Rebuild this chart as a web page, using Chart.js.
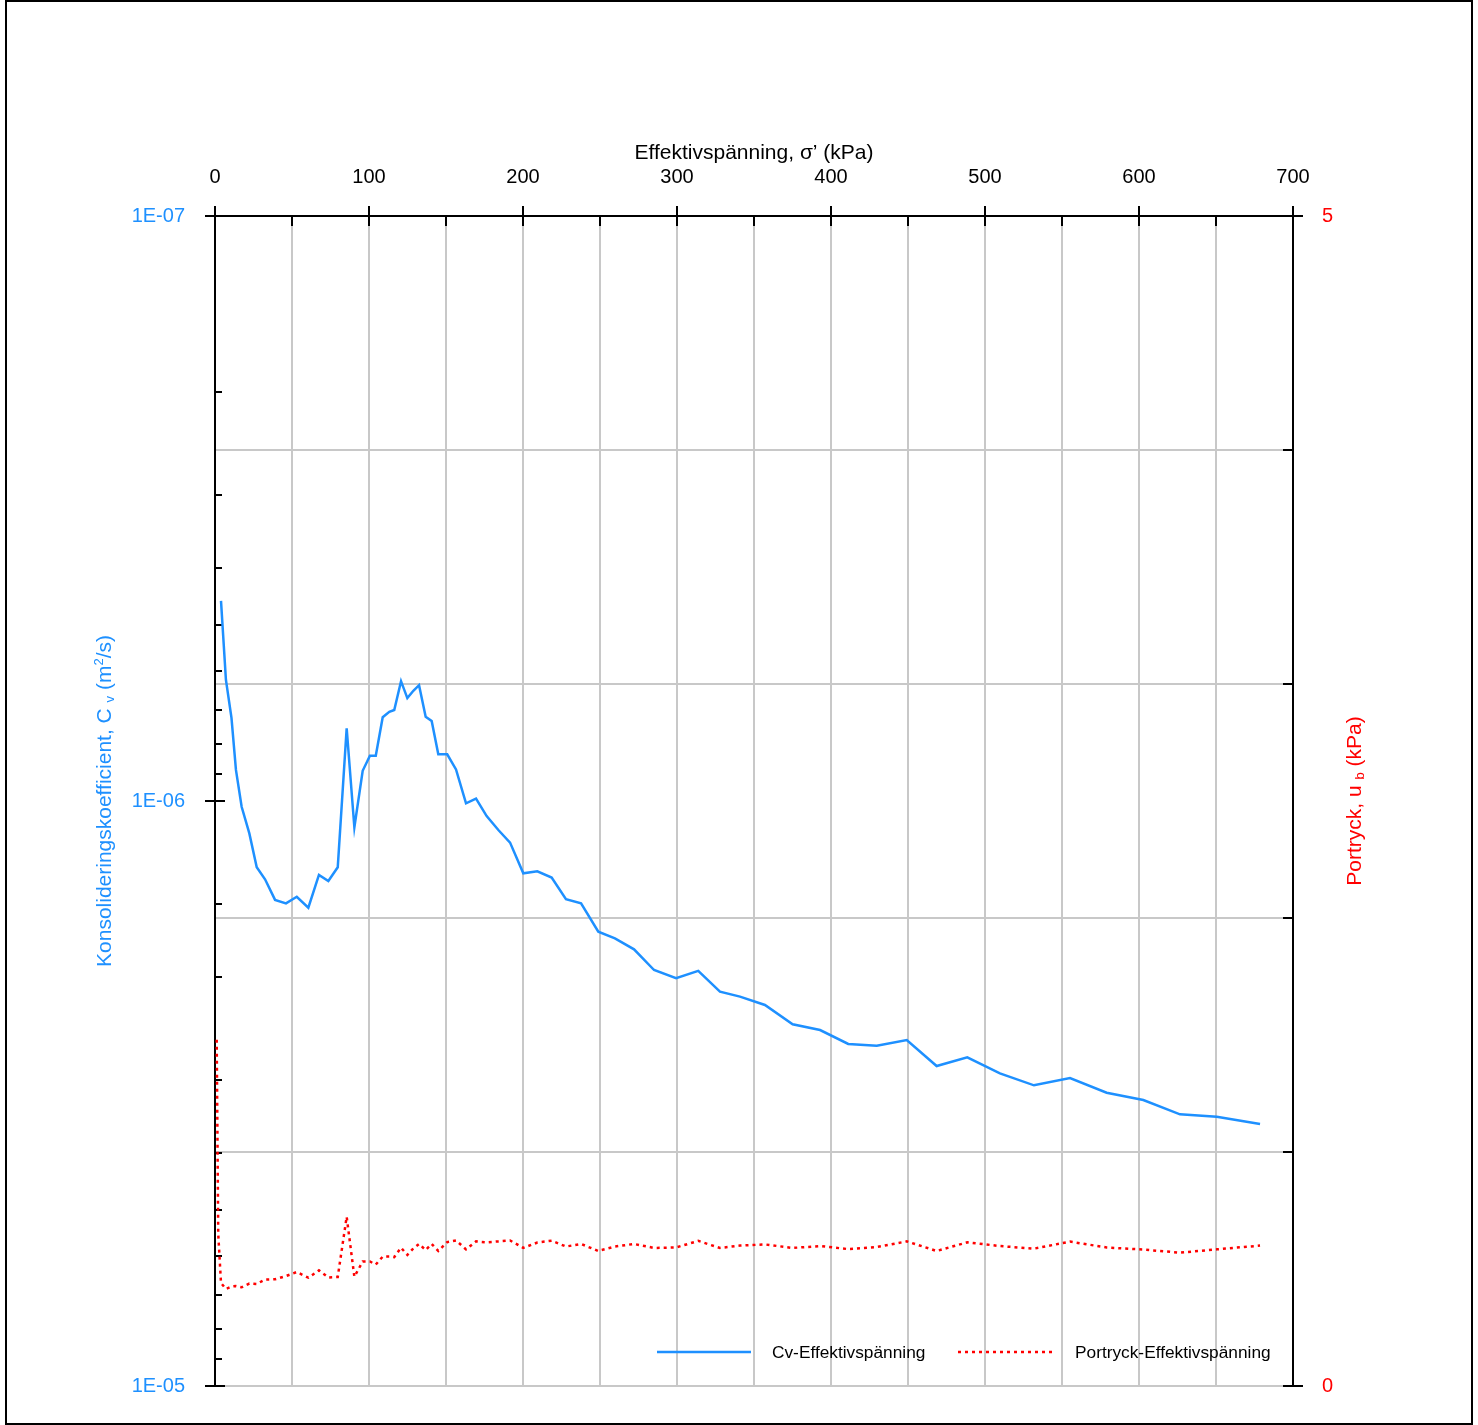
<!DOCTYPE html>
<html>
<head>
<meta charset="utf-8">
<script src="https://cdn.jsdelivr.net/npm/chart.js@4.4.1/dist/chart.umd.min.js"></script>
<style>
  html, body { margin: 0; padding: 0; background: #fff; overflow: hidden; }
  #wrap { width: 1478px; height: 1425px; position: relative; overflow: hidden; }
  #c { display: block; }
</style>
</head>
<body>
<div id="wrap"><canvas id="c" width="1478" height="1425"></canvas></div>
<script>
// Effective stress, kPa (common to both series)
const sigma = [3.9, 7.1, 10.7, 13.6, 17.3, 22.3, 27.1, 32.5, 39.0, 46.1,
  53.1, 60.6, 67.5, 73.6, 79.7, 85.5, 90.5, 95.9, 100.6, 104.4,
  108.9, 113.2, 116.4, 120.8, 124.9, 128.8, 132.5, 136.8, 140.7, 145.0,
  150.8, 156.5, 163.0, 169.5, 176.4, 184.0, 191.6, 200.2, 209.3, 218.6,
  227.9, 237.7, 248.9, 259.7, 272.1, 285.1, 299.4, 313.8, 327.9, 340.9,
  357.1, 375.1, 392.9, 411.2, 429.7, 449.2, 468.6, 488.5, 509.7, 531.8,
  555.2, 579.0, 602.8, 626.6, 650.5, 678.6];

// Coefficient of consolidation, m2/s
const cv = [4.55e-7, 6.21e-7, 7.21e-7, 8.85e-7, 1.023e-6, 1.136e-6, 1.298e-6, 1.361e-6, 1.476e-6, 1.496e-6,
  1.458e-6, 1.522e-6, 1.338e-6, 1.370e-6, 1.298e-6, 7.51e-7, 1.109e-6, 8.88e-7, 8.37e-7, 8.37e-7,
  7.19e-7, 7.04e-7, 6.99e-7, 6.24e-7, 6.67e-7, 6.48e-7, 6.34e-7, 7.18e-7, 7.30e-7, 8.32e-7,
  8.32e-7, 8.83e-7, 1.009e-6, 9.91e-7, 1.061e-6, 1.121e-6, 1.178e-6, 1.329e-6, 1.319e-6, 1.352e-6,
  1.472e-6, 1.496e-6, 1.673e-6, 1.717e-6, 1.793e-6, 1.945e-6, 2.009e-6, 1.952e-6, 2.118e-6, 2.160e-6,
  2.232e-6, 2.408e-6, 2.463e-6, 2.602e-6, 2.620e-6, 2.562e-6, 2.838e-6, 2.742e-6, 2.921e-6, 3.062e-6,
  2.975e-6, 3.152e-6, 3.244e-6, 3.432e-6, 3.465e-6, 3.565e-6];

// Pore pressure series starts with two early readings before the first Cv point
const poreSigma = [1.1, 2.1, ...sigma];
const pore = [1.48, 0.65,
  0.440, 0.415, 0.425, 0.427, 0.422, 0.438, 0.436, 0.455, 0.456, 0.470,
  0.487, 0.463, 0.494, 0.464, 0.466, 0.723, 0.467, 0.532, 0.532, 0.519,
  0.553, 0.553, 0.551, 0.591, 0.560, 0.588, 0.607, 0.581, 0.607, 0.577,
  0.615, 0.622, 0.584, 0.618, 0.614, 0.618, 0.622, 0.590, 0.613, 0.621,
  0.596, 0.607, 0.577, 0.596, 0.607, 0.590, 0.592, 0.620, 0.590, 0.600,
  0.605, 0.590, 0.598, 0.585, 0.594, 0.618, 0.577, 0.614, 0.598, 0.587,
  0.617, 0.592, 0.583, 0.570, 0.584, 0.600];

const seriesNames = ['Cv-Effektivspänning', 'Portryck-Effektivspänning'];
const xTitle = 'Effektivspänning, σ’ (kPa)';

const FONT = '"Liberation Sans", Arial, sans-serif';
const BLUE = '#1E90FF';
const RED = '#FF0000';
const GRID = '#c8c8c8';

function isDecade(v) {
  const l = Math.log10(v);
  return Math.abs(l - Math.round(l)) < 1e-6;
}

// rich text (sub/superscripts), centred on (cx, cy), optionally rotated
function drawRich(ctx, parts, cx, cy, angle, color) {
  ctx.save();
  ctx.translate(cx, cy);
  ctx.rotate(angle);
  ctx.fillStyle = color;
  ctx.textBaseline = 'middle';
  ctx.textAlign = 'left';
  let total = 0;
  for (const p of parts) {
    ctx.font = p.size + 'px ' + FONT;
    p.w = ctx.measureText(p.t).width;
    total += p.w;
  }
  let xx = -total / 2;
  for (const p of parts) {
    ctx.font = p.size + 'px ' + FONT;
    ctx.fillText(p.t, xx, p.dy || 0);
    xx += p.w;
  }
  ctx.restore();
}

const framePlugin = {
  id: 'frame',
  beforeDatasetsDraw(chart) {
    const { ctx, chartArea: a, scales: { x, y, y2 } } = chart;
    ctx.save();
    ctx.strokeStyle = '#000';
    ctx.lineWidth = 2;
    ctx.beginPath();
    // axis lines
    ctx.moveTo(a.left - 10, a.top); ctx.lineTo(a.right + 10, a.top);
    ctx.moveTo(a.left, a.top); ctx.lineTo(a.left, a.bottom + 1);
    ctx.moveTo(a.right, a.top); ctx.lineTo(a.right, a.bottom + 1);
    // top axis ticks
    for (let v = 0; v <= 700; v += 50) {
      const px = Math.round(x.getPixelForValue(v));
      if (v % 100 === 0) { ctx.moveTo(px, a.top - 10); ctx.lineTo(px, a.top + 10); }
      else { ctx.moveTo(px, a.top); ctx.lineTo(px, a.top + 10); }
    }
    // left log axis ticks
    for (const t of y.ticks) {
      const py = Math.round(y.getPixelForValue(t.value));
      if (isDecade(t.value)) { ctx.moveTo(a.left - 10, py); ctx.lineTo(a.left + 10, py); }
      else { ctx.moveTo(a.left, py); ctx.lineTo(a.left + 7, py); }
    }
    // right axis ticks
    for (const t of y2.ticks) {
      const py = Math.round(y2.getPixelForValue(t.value));
      if (t.value === 0 || t.value === 5) { ctx.moveTo(a.right - 10, py); ctx.lineTo(a.right + 10, py); }
      else { ctx.moveTo(a.right - 10, py); ctx.lineTo(a.right, py); }
    }
    ctx.stroke();
    ctx.restore();
  },
  afterDraw(chart) {
    const { ctx, chartArea: a } = chart;
    ctx.save();
    // outer frame
    ctx.strokeStyle = '#000';
    ctx.lineWidth = 2;
    ctx.strokeRect(6, 1, 1466, 1423);

    // top axis title
    ctx.fillStyle = '#000';
    ctx.font = '21px ' + FONT;
    ctx.textAlign = 'center';
    ctx.textBaseline = 'middle';
    ctx.fillText(xTitle, (a.left + a.right) / 2, a.top - 63);

    // legend inside the plot, bottom right
    const ly = a.bottom - 34;
    const ds = chart.data.datasets;
    ctx.lineWidth = 2.5;
    ctx.strokeStyle = ds[0].borderColor;
    ctx.beginPath(); ctx.moveTo(a.right - 636, ly); ctx.lineTo(a.right - 542, ly); ctx.stroke();
    ctx.lineWidth = ds[1].borderWidth;
    ctx.strokeStyle = ds[1].borderColor;
    ctx.setLineDash(ds[1].borderDash);
    ctx.beginPath(); ctx.moveTo(a.right - 335, ly); ctx.lineTo(a.right - 240, ly); ctx.stroke();
    ctx.setLineDash([]);
    ctx.fillStyle = '#000';
    ctx.font = '17.3px ' + FONT;
    ctx.textAlign = 'left';
    ctx.textBaseline = 'middle';
    ctx.fillText(ds[0].label, a.right - 521, ly + 1);
    ctx.fillText(ds[1].label, a.right - 218, ly + 1);
    ctx.restore();

    const midY = (a.top + a.bottom) / 2;
    drawRich(ctx, [
      { t: 'Konsolideringskoefficient, C ', size: 21 },
      { t: 'v', size: 13, dy: 5 },
      { t: ' (m', size: 21 },
      { t: '2', size: 13, dy: -6 },
      { t: '/s)', size: 21 }
    ], a.left - 110, midY, -Math.PI / 2, BLUE);
    drawRich(ctx, [
      { t: 'Portryck, u ', size: 21 },
      { t: 'b', size: 13, dy: 5 },
      { t: ' (kPa)', size: 21 }
    ], a.right + 62, midY, -Math.PI / 2, RED);
  }
};

new Chart(document.getElementById('c'), {
  type: 'line',
  data: {
    datasets: [
      {
        label: seriesNames[0],
        data: sigma.map((s, i) => ({ x: s, y: cv[i] })),
        yAxisID: 'y',
        borderColor: BLUE,
        borderWidth: 2.5,
        pointRadius: 0,
        tension: 0,
        fill: false
      },
      {
        label: seriesNames[1],
        data: poreSigma.map((s, i) => ({ x: s, y: pore[i] })),
        yAxisID: 'y2',
        borderColor: RED,
        borderWidth: 2.5,
        borderDash: [3, 4],
        pointRadius: 0,
        tension: 0,
        fill: false
      }
    ]
  },
  options: {
    responsive: false,
    animation: false,
    devicePixelRatio: 1,
    layout: { padding: { left: 0, right: 0, top: 0, bottom: 39 } },
    plugins: { legend: { display: false }, tooltip: { enabled: false } },
    scales: {
      x: {
        type: 'linear',
        position: 'top',
        min: 0, max: 700,
        afterFit: s => { s.height = 216; s.paddingLeft = 0; s.paddingRight = 0; },
        ticks: {
          stepSize: 50,
          autoSkip: false,
          maxRotation: 0,
          padding: 27,
          color: '#000',
          font: { family: FONT, size: 20 },
          callback: v => (v % 100 === 0 ? String(v) : '')
        },
        grid: {
          drawTicks: false,
          lineWidth: 2,
          color: c => (c.tick && (c.tick.value === 0 || c.tick.value === 700)) ? 'rgba(0,0,0,0)' : GRID
        },
        border: { display: false }
      },
      y: {
        type: 'logarithmic',
        position: 'left',
        min: 1e-7, max: 1e-5,
        reverse: true,
        afterFit: s => { s.width = 215; s.paddingTop = 0; s.paddingBottom = 0; },
        ticks: {
          autoSkip: false,
          padding: 30,
          color: BLUE,
          font: { family: FONT, size: 20 },
          callback: v => {
            if (!isDecade(v)) return '';
            const e = Math.round(Math.log10(v));
            return '1E-' + String(-e).padStart(2, '0');
          }
        },
        grid: { display: false, drawTicks: false },
        border: { display: false }
      },
      y2: {
        type: 'linear',
        position: 'right',
        min: 0, max: 5,
        afterFit: s => { s.width = 185; s.paddingTop = 0; s.paddingBottom = 0; },
        ticks: {
          stepSize: 1,
          autoSkip: false,
          padding: 29,
          color: RED,
          font: { family: FONT, size: 20 },
          callback: v => (v === 0 || v === 5 ? String(v) : '')
        },
        grid: {
          drawTicks: false,
          lineWidth: 2,
          color: c => (c.tick && c.tick.value === 5) ? 'rgba(0,0,0,0)' : GRID
        },
        border: { display: false }
      }
    }
  },
  plugins: [framePlugin]
});
</script>
</body>
</html>
